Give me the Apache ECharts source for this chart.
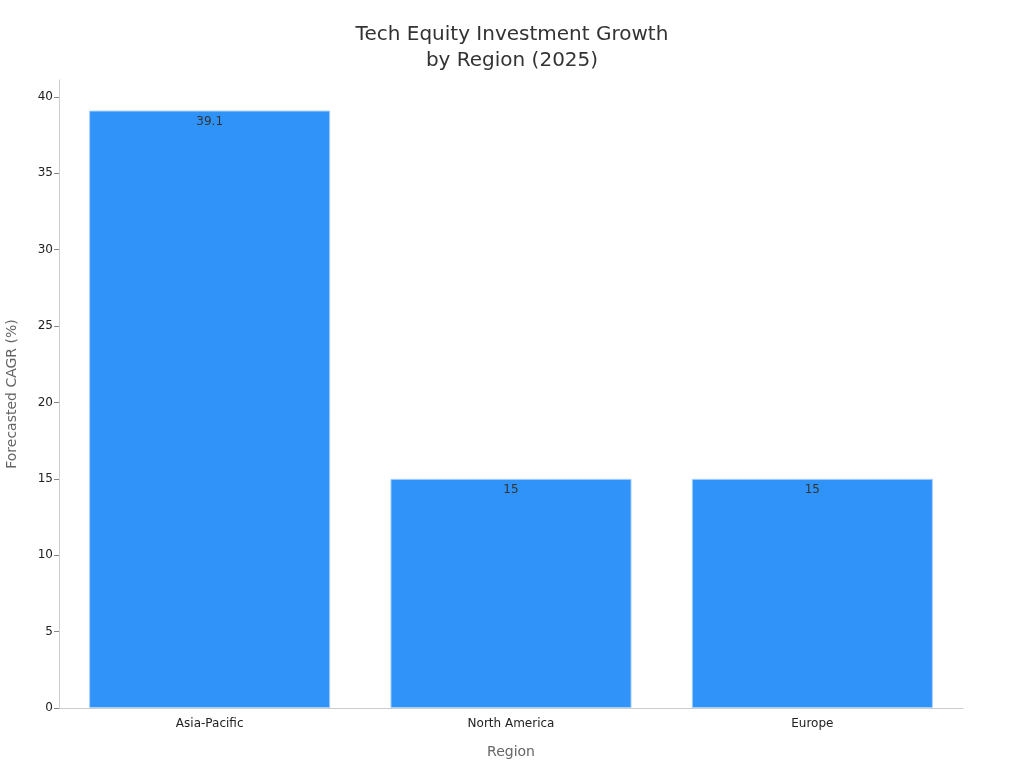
<!DOCTYPE html>
<html><head><meta charset="utf-8">
<script src="https://cdn.jsdelivr.net/npm/echarts@6/dist/echarts.min.js"></script>
<style>html,body{margin:0;padding:0;background:#fff}#c{width:1024px;height:768px}</style>
</head><body><div id="c"></div>
<script>
const categories = ["Asia-Pacific", "North America", "Europe"];
const cagrValues = [39.1, 15, 15];
const chart = echarts.init(document.getElementById('c'));
chart.setOption({
  animation: false,
  textStyle: { fontFamily: 'DejaVu Sans' },
  title: {
    text: 'Tech Equity Investment Growth\nby Region (2025)',
    left: 'center', top: 17,
    textStyle: { fontSize: 20, fontWeight: 'normal', color: '#333', lineHeight: 26, fontFamily: 'DejaVu Sans' }
  },
  grid: { left: 59, right: 61, top: 80, bottom: 60, containLabel: false, outerBoundsMode: 'none' },
  xAxis: {
    type: 'category', data: categories,
    name: 'Region', nameLocation: 'middle', nameGap: 37,
    nameTextStyle: { fontSize: 14, color: '#666' },
    axisLine: { lineStyle: { color: '#ccc' } },
    axisTick: { alignWithLabel: true, lineStyle: { color: '#888' } },
    axisLabel: { fontSize: 12, color: '#222', margin: 10 }
  },
  yAxis: {
    type: 'value', min: 0, max: 41.1, interval: 5,
    name: 'Forecasted CAGR (%)', nameLocation: 'middle', nameGap: 40,
    nameTextStyle: { fontSize: 14, color: '#666' },
    axisLine: { show: true, lineStyle: { color: '#ccc' } },
    axisTick: { show: true, length: 5, lineStyle: { color: '#888' } },
    axisLabel: { fontSize: 12, color: '#222', margin: 6, showMaxLabel: false,
      formatter: v => (v % 5 === 0 ? String(v) : '') },
    splitLine: { show: false }
  },
  series: [{
    type: 'bar', data: cagrValues, barWidth: '80%',
    itemStyle: { color: '#2f93f9', borderColor: '#a9d0fb', borderWidth: 1 },
    label: { show: true, position: 'insideTop', distance: 5, fontSize: 12, color: '#333' }
  }]
});
</script></body></html>
